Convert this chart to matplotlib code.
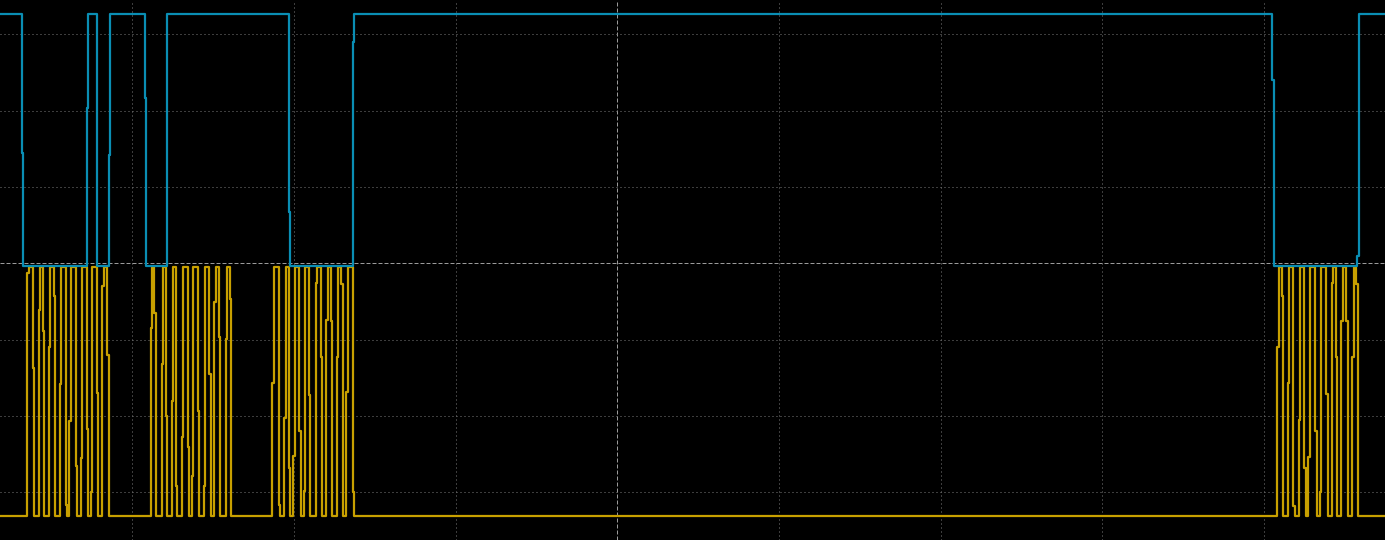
import numpy as np
import matplotlib
matplotlib.use("Agg")
import matplotlib.pyplot as plt

# ---- data (time in microseconds, voltage in volts, 100 us/div, 1 V/div) ----
t_left, t_right = -381.7, 474.7
v_top, v_bottom = 3.451, -3.626

# channel 1 (blue)
blue_t = [-381.7, -368.3, -367.5, -328.1, -327.3, -321.9, -314.5, -313.7,
          -292.1, -291.3, -278.6, -203.0, -202.2, -163.6, -162.8,
          404.9, 406.0, 457.2, 458.4, 474.7]
blue_v = [3.30, 1.48, 0.00, 2.07, 3.30, 0.00, 1.45, 3.30,
          2.20, 0.00, 3.30, 0.71, 0.00, 2.93, 3.30,
          2.44, 0.00, 0.13, 3.30, 3.30]
blue_offset = -0.035

# channel 2 (yellow) : rising / falling edge times and the sampled mid level
yel_rise_t = [-364.8, -357.6, -351.4, -344.8, -338.9, -331.6, -325.5, -318.5,
              -288.6, -281.6, -275.4, -269.2, -263.0, -255.6, -249.2, -242.2,
              -213.3, -205.9, -200.3, -193.7, -186.3, -179.9, -173.5, -167.6,
              408.2, 414.6, 421.6, 427.3, 434.3, 442.0, 447.7, 454.5]
yel_rise_v = [3.18, 2.70, 2.21, 1.73, 1.25, 0.76, 0.31, 3.02,
              2.47, 1.99, 1.51, 1.03, 0.52, 0.39, 2.80, 2.32,
              1.75, 1.29, 0.79, 0.33, 3.06, 2.57, 2.08, 1.62,
              2.21, 1.75, 1.26, 0.78, 0.31, 3.05, 2.56, 2.08]
yel_fall_t = [-361.5, -355.4, -348.3, -341.1, -334.7, -327.9, -322.0, -315.4,
              -286.3, -279.1, -272.9, -265.7, -259.5, -252.3, -246.3, -239.5,
              -209.2, -203.0, -196.6, -190.9, -183.4, -177.3, -170.7, -163.6,
              410.8, 417.9, 424.9, 431.7, 438.3, 444.4, 450.8, 457.0]
yel_fall_v = [1.94, 2.42, 2.89, 0.15, 0.66, 1.14, 1.61, 2.11,
              2.66, 1.31, 0.39, 0.90, 1.38, 1.86, 2.34, 2.84,
              0.15, 0.63, 1.11, 1.59, 2.08, 2.56, 3.04, 0.31,
              2.88, 0.13, 0.63, 1.11, 1.60, 2.08, 2.56, 3.04]
yel_high, yel_low = 3.26, 0.00
yel_offset = -3.312
sample_us = 0.85

# ---- build yellow step trace ----
yt, yv = [t_left], [yel_low]
for tr, vr, tf, vf in zip(yel_rise_t, yel_rise_v, yel_fall_t, yel_fall_v):
    yt += [tr, tr + sample_us, tf, tf + sample_us]
    yv += [vr, yel_high, vf, yel_low]
yt.append(t_right)
yv.append(yel_low)

fig = plt.figure(figsize=(13.85, 5.40), dpi=100, facecolor="black")
ax = fig.add_axes([0, 0, 1, 1])
ax.set_facecolor("black")
ax.set_xlim(t_left, t_right)
ax.set_ylim(v_bottom, v_top)

# graticule
for k in range(-4, 5):
    if k == 0:
        ax.axvline(0, color="#9a9a9a", lw=0.72, ls=(0, (4, 2)), zorder=1)
        ax.axhline(0, color="#9a9a9a", lw=0.72, ls=(0, (4, 2)), zorder=1)
    else:
        ax.axvline(k * 100, color="#7a7a7a", lw=0.72, ls=(0, (1, 3)), zorder=1)
        ax.axhline(k, color="#7a7a7a", lw=0.72, ls=(0, (1, 3)), zorder=1)

ax.plot(yt, np.array(yv) + yel_offset, drawstyle="steps-post",
        color="#c8a000", lw=1.6, zorder=3)
ax.plot(blue_t, np.array(blue_v) + blue_offset, drawstyle="steps-post",
        color="#0a8eb4", lw=1.6, zorder=4)

ax.set_xticks([])
ax.set_yticks([])
for s in ax.spines.values():
    s.set_visible(False)

fig.savefig("out.png", dpi=100, facecolor="black")
